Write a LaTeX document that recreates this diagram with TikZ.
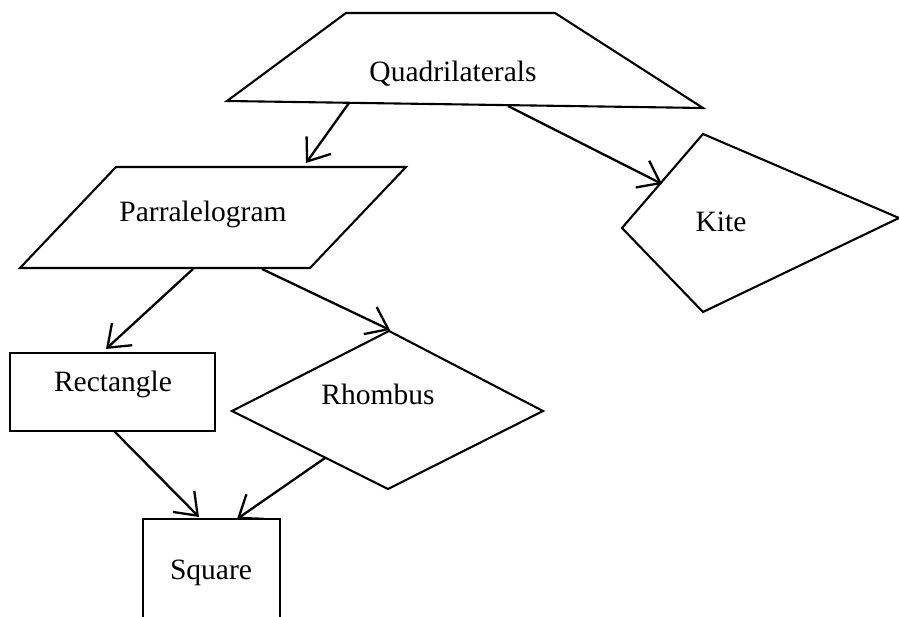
\documentclass[tikz,border=0pt]{standalone}
\usepackage{fontspec}
\setmainfont{Liberation Serif}
\usetikzlibrary{arrows.meta}
\tikzset{
  shapeline/.style={line width=2.1pt, line join=miter},
  conn/.style={line width=2.3pt, -{Straight Barb[length=20pt,width=30pt,line width=2.3pt]}},
  lbl/.style={anchor=base, inner sep=0pt, font=\fontsize{29.5}{35}\selectfont}
}
\begin{document}
\begin{tikzpicture}[x=1pt,y=-1pt]
\useasboundingbox (0,0) rectangle (899,617);
% Quadrilaterals (trapezoid)
\coordinate (q1) at (346,13);
\coordinate (q2) at (555,13);
\coordinate (q3) at (703,108);
\coordinate (q4) at (227,101);
\draw[shapeline] (q1) -- (q2) -- (q3) -- (q4) -- cycle;
\node[lbl] (quad) at (453,82) {Quadrilaterals};
% Parralelogram
\coordinate (p1) at (116,167);
\coordinate (p2) at (406,167);
\coordinate (p3) at (310,268);
\coordinate (p4) at (20,268);
\draw[shapeline] (p1) -- (p2) -- (p3) -- (p4) -- cycle;
\node[lbl] (para) at (203,222) {Parralelogram};
% Kite
\coordinate (k1) at (703,134);
\coordinate (k2) at (899,218);
\coordinate (k3) at (703,312);
\coordinate (k4) at (622,228);
\draw[shapeline] (k1) -- (k2) -- (k3) -- (k4) -- cycle;
\node[lbl] (kite) at (721,232) {Kite};
% Rectangle
\coordinate (r1) at (10,353);
\coordinate (r2) at (215,431);
\draw[shapeline] (r1) rectangle (r2);
\node[lbl] (rect) at (113,391) {Rectangle};
% Rhombus
\coordinate (h1) at (232,411);
\coordinate (h2) at (389,331);
\coordinate (h3) at (543,411);
\coordinate (h4) at (388,489);
\draw[shapeline] (h1) -- (h2) -- (h3) -- (h4) -- cycle;
\node[lbl] (rhom) at (378,404) {Rhombus};
% Square (cut off at the bottom)
\coordinate (s1) at (143,617);
\coordinate (s2) at (143,519);
\coordinate (s3) at (280,519);
\coordinate (s4) at (280,617);
\draw[shapeline] (s1) -- (s2) -- (s3) -- (s4);
\node[lbl] (squa) at (211,579) {Square};
% connector end points
\coordinate (a1s) at (349,103);
\coordinate (a1e) at (306,163);
\coordinate (a2s) at (508,106);
\coordinate (a2e) at (662,184);
\coordinate (a3s) at (193,269);
\coordinate (a3e) at (106,349);
\coordinate (a4s) at (262,269);
\coordinate (a4e) at (390,330);
\coordinate (a5s) at (114,431);
\coordinate (a5e) at (199,517);
\coordinate (a6s) at (325,458);
\coordinate (a6e) at (237,519);
\draw[conn] (a1s) -- (a1e);
\draw[conn] (a2s) -- (a2e);
\draw[conn] (a3s) -- (a3e);
\draw[conn] (a4s) -- (a4e);
\draw[conn] (a5s) -- (a5e);
\draw[conn] (a6s) -- (a6e);
\end{tikzpicture}
\end{document}
